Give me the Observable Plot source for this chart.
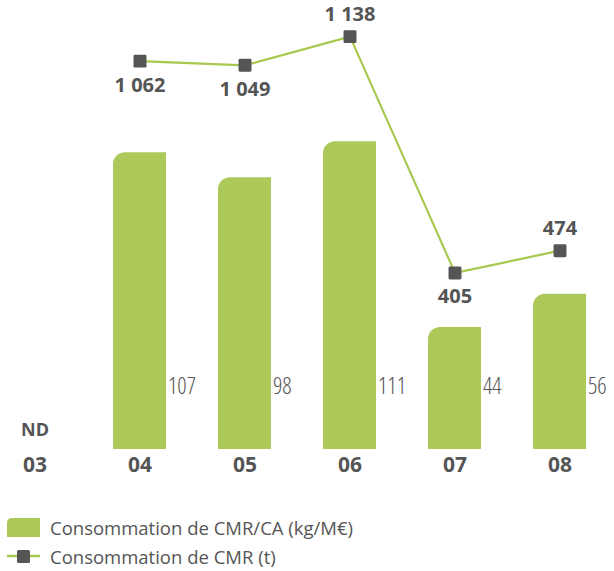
<!DOCTYPE html>
<html><head><meta charset="utf-8">
<script src="https://cdn.jsdelivr.net/npm/d3@7"></script>
<script src="https://cdn.jsdelivr.net/npm/@observablehq/plot@0.6"></script>
<style>
body{margin:0;background:#fff;font-family:"Open Sans",sans-serif;}
#wrap{position:relative;width:614px;height:571px;overflow:hidden;}
#wrap svg.plot{position:absolute;left:0;top:0;}
.leg{position:absolute;left:0;height:20px;font-size:18.5px;color:#555;display:flex;align-items:center;white-space:nowrap;}
.barval text, text.barval{font-stretch:87.5%;}
</style></head><body><div id="wrap"></div>
<script>
// ---- data ----
const years = ["03","04","05","06","07","08"];
const ratioYears = ["04","05","06","07","08"];
const ratio = [107, 98, 111, 44, 56];          // Consommation de CMR/CA (kg/M€)
const cmr = [1062, 1049, 1138, 405, 474];      // Consommation de CMR (t)
const cmrLabelPos = ["below","below","above","below","above"];
const noDataYears = ["03"];
const noDataLabel = "ND";
const legendLabels = ["Consommation de CMR/CA (kg/M€)", "Consommation de CMR (t)"];

// ---- style ----
const green = "#acc95a";
const lineGreen = "#a9c94e";
const dark = "#555555";
const W = 614, H = 500;
const fr = d3.formatLocale({decimal: ",", thousands: "\u00a0", grouping: [3], currency: ["", "€"]});
const fmt = fr.format(",d");

const barData = ratioYears.map((y, i) => ({year: y, value: ratio[i]}));
const lineData = ratioYears.map((y, i) => ({year: y, value: cmr[i], pos: cmrLabelPos[i]}));

const xScale = {type: "band", domain: years, paddingInner: 0.5, paddingOuter: 0, align: 0.5};
const marginsX = {marginLeft: 6.6, marginRight: 27.7};

const wrap = document.getElementById("wrap");

// Bars (left axis)
const barsPlot = Plot.plot({
  width: W, height: H, ...marginsX, marginTop: 33, marginBottom: 51,
  style: {fontFamily: "'Open Sans', sans-serif", background: "transparent", overflow: "visible"},
  x: {...xScale, axis: null},
  y: {domain: [0, 150], axis: null},
  marks: [
    Plot.barY(barData, {x: "year", y: "value", fill: green, rx1y1: 12}),
    Plot.text(barData, {x: "year", text: d => String(d.value), frameAnchor: "bottom", dy: -56, dx: 28,
      textAnchor: "start", fontSize: 23, fill: dark, fontWeight: 350, className: "barval"}),
    Plot.text(noDataYears, {x: d => d, text: () => noDataLabel, frameAnchor: "bottom", dy: -14,
      fontSize: 18, fontWeight: "bold", fill: dark}),
    Plot.text(years, {x: d => d, text: d => d, frameAnchor: "bottom", dy: 22,
      fontSize: 21, fontWeight: "bold", fill: dark})
  ]
});
barsPlot.classList.add("plot");
wrap.appendChild(barsPlot);

// Line (right axis, own scale)
const roundedSquare = {
  draw(ctx, size) {
    const s = Math.sqrt(size) / 2, r = s * 0.22;
    ctx.moveTo(-s + r, -s);
    ctx.arcTo(s, -s, s, s, r);
    ctx.arcTo(s, s, -s, s, r);
    ctx.arcTo(-s, s, -s, -s, r);
    ctx.arcTo(-s, -s, s, -s, r);
    ctx.closePath();
  }
};
const linePlot = Plot.plot({
  width: W, height: H, ...marginsX, marginTop: 0, marginBottom: 97,
  style: {fontFamily: "'Open Sans', sans-serif", background: "transparent", overflow: "visible"},
  x: {...xScale, axis: null},
  y: {domain: [0, 1250], axis: null},
  marks: [
    Plot.line(lineData, {x: "year", y: "value", stroke: lineGreen, strokeWidth: 2.2}),
    Plot.dot(lineData, {x: "year", y: "value", symbol: roundedSquare, r: 7.3, fill: dark, stroke: "none"}),
    Plot.text(lineData.filter(d => d.pos === "below"), {x: "year", y: "value", text: d => fmt(d.value),
      dy: 24, fontSize: 20, fontWeight: "bold", fill: dark}),
    Plot.text(lineData.filter(d => d.pos === "above"), {x: "year", y: "value", text: d => fmt(d.value),
      dy: -22, fontSize: 20, fontWeight: "bold", fill: dark})
  ]
});
linePlot.classList.add("plot");
wrap.appendChild(linePlot);

// Legend
const leg1 = document.createElement("div");
leg1.className = "leg"; leg1.style.top = "517px";
leg1.innerHTML = `<svg width="50" height="20" style="flex:none"><path d="M7,20 V6 Q7,1 12,1 H40 V20 Z" fill="${green}"/></svg><span></span>`;
leg1.querySelector("span").textContent = legendLabels[0];
wrap.appendChild(leg1);
const leg2 = document.createElement("div");
leg2.className = "leg"; leg2.style.top = "546px";
leg2.innerHTML = `<svg width="50" height="20" style="flex:none"><line x1="7" x2="40" y1="10" y2="10" stroke="${lineGreen}" stroke-width="2.5"/><rect x="17" y="4" width="13" height="13" rx="1.5" fill="${dark}"/></svg><span></span>`;
leg2.querySelector("span").textContent = legendLabels[1];
wrap.appendChild(leg2);
</script>
</body></html>
